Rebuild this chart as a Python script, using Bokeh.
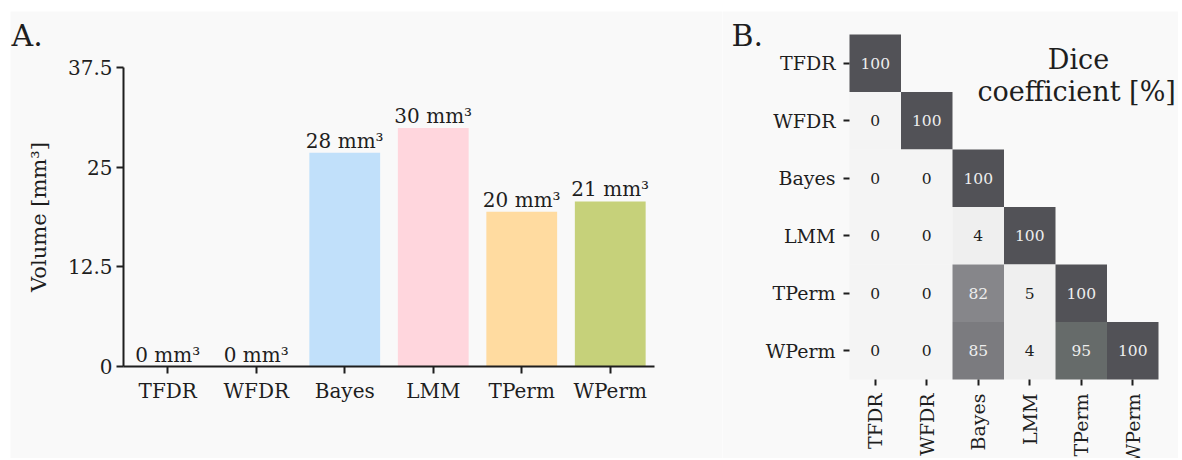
import math
from bokeh.plotting import figure
from bokeh.models import (ColumnDataSource, LabelSet, Label, Range1d, FixedTicker,
                          NumeralTickFormatter, CustomJSTickFormatter, Spacer)
from bokeh.layouts import row, column
from bokeh.embed import file_html
from bokeh.resources import INLINE
from bokeh.core.properties import value

# ---------------- data ----------------
methods = ["TFDR", "WFDR", "Bayes", "LMM", "TPerm", "WPerm"]
volumes = [0, 0, 26.8, 29.9, 19.4, 20.7]
volume_labels = ["0 mm³", "0 mm³", "28 mm³", "30 mm³", "20 mm³", "21 mm³"]
bar_colors = ["#c1e0fa", "#c1e0fa", "#c1e0fa", "#ffd6dd", "#ffdba0", "#c6d17a"]
volume_ticks = [0, 12.5, 25, 37.5]

# lower triangle of the Dice coefficient matrix (row by row)
dice_tfdr = [100]
dice_wfdr = [0, 100]
dice_bayes = [0, 0, 100]
dice_lmm = [0, 0, 4, 100]
dice_tperm = [0, 0, 82, 5, 100]
dice_wperm = [0, 0, 85, 4, 95, 100]
dice_rows = [dice_tfdr, dice_wfdr, dice_bayes, dice_lmm, dice_tperm, dice_wperm]

cell_palette = {0: "#f4f4f4", 4: "#efefef", 5: "#efefef", 82: "#86868a",
                85: "#7b7b7f", 95: "#666b6a", 100: "#525257"}

FONT = "DejaVu Serif"
BG = "#f9f9f9"
INK = "#1e1e1e"
n = len(methods)

# ---------------- panel A (frame spans whole canvas; axes pinned) ----------------
WA, HA = 712, 447
ax_left, ax_top, ax_bottom = 113, 56, 355      # px inside canvas
ppx = 88.5                                      # px per category
ppy = (ax_bottom - ax_top) / 37.5
xA = Range1d(-ax_left / ppx, (WA - ax_left) / ppx)
yA = Range1d(-(HA - ax_bottom) / ppy, 37.5 + ax_top / ppy)

pA = figure(x_range=xA, y_range=yA, width=WA, height=HA, output_backend="svg",
            toolbar_location=None, min_border=0, title=None)
pA.background_fill_color = BG
pA.border_fill_color = BG
pA.outline_line_color = None
pA.grid.visible = False

xpos = [i + 0.5 for i in range(n)]
srcA = ColumnDataSource(dict(x=xpos, top=volumes, lab=volume_labels, c=bar_colors))
pA.vbar(x="x", top="top", width=0.8, fill_color="c", line_color=None, source=srcA)
pA.add_layout(LabelSet(x="x", y="top", text="lab", source=srcA, text_align="center",
                       text_baseline="alphabetic", y_offset=5,
                       text_font=value(FONT), text_font_size="20px", text_color=INK))

name_fmt = CustomJSTickFormatter(args=dict(names=methods),
                                 code="return names[Math.floor(tick)] || ''")

pA.yaxis.ticker = FixedTicker(ticks=volume_ticks)
pA.yaxis.formatter = NumeralTickFormatter(format="0.[0]")
pA.yaxis.fixed_location = 0
pA.yaxis.bounds = (0, 37.5)
pA.yaxis.axis_label = "Volume [mm³]"
pA.yaxis.axis_label_text_font = FONT
pA.yaxis.axis_label_text_font_style = "normal"
pA.yaxis.axis_label_text_font_size = "21px"
pA.yaxis.axis_label_text_color = INK
pA.yaxis.axis_label_standoff = 14
pA.xaxis.ticker = FixedTicker(ticks=xpos)
pA.xaxis.formatter = name_fmt
pA.xaxis.fixed_location = 0
pA.xaxis.bounds = (0, n)
for ax in (pA.xaxis[0], pA.yaxis[0]):
    ax.axis_line_width = 2
    ax.axis_line_color = INK
    ax.major_tick_line_width = 2
    ax.major_tick_line_color = INK
    ax.major_tick_out = 7
    ax.major_tick_in = 0
    ax.minor_tick_line_color = None
    ax.major_label_text_font = FONT
    ax.major_label_text_font_size = "20px"
    ax.major_label_text_color = INK
pA.yaxis.major_label_standoff = 4
pA.xaxis.major_label_standoff = 5

pA.add_layout(Label(x=xA.start + 1 / ppx, y=yA.end - 24 / ppy, text="A.", text_font=FONT,
                    text_font_size="30px", text_color=INK, text_baseline="alphabetic",
                    text_align="left"))

# ---------------- panel B ----------------
WB, HB = 456, 447
bx_left, by_top, by_bottom = 127, 23, 368
cw = 51.5
ch = (by_bottom - by_top) / n
xB = Range1d(-bx_left / cw, (WB - bx_left) / cw)
yB = Range1d(-(HB - by_bottom) / ch, n + by_top / ch)

pB = figure(x_range=xB, y_range=yB, width=WB, height=HB, output_backend="svg",
            toolbar_location=None, min_border=0, title=None)
pB.background_fill_color = BG
pB.border_fill_color = BG
pB.outline_line_color = None
pB.grid.visible = False

xs, ys, fills, tcols, txt = [], [], [], [], []
for i, r in enumerate(dice_rows):
    for j, v in enumerate(r):
        xs.append(j + 0.5)
        ys.append(n - 0.5 - i)
        fills.append(cell_palette[v])
        tcols.append("#eeeeee" if v >= 50 else INK)
        txt.append(str(v))
srcB = ColumnDataSource(dict(x=xs, y=ys, f=fills, tc=tcols, t=txt))
pB.rect(x="x", y="y", width=1, height=1, fill_color="f", line_color=None, source=srcB)
pB.text(x="x", y="y", text="t", text_color="tc", text_align="center", text_baseline="middle",
        text_font=value(FONT), text_font_size="15.5px", source=srcB)

rev = list(reversed(methods))
pB.xaxis.ticker = FixedTicker(ticks=xpos)
pB.xaxis.formatter = name_fmt
pB.xaxis.fixed_location = 0
pB.xaxis.bounds = (0, n)
pB.xaxis.major_label_orientation = math.pi / 2
pB.yaxis.ticker = FixedTicker(ticks=xpos)
pB.yaxis.formatter = CustomJSTickFormatter(args=dict(names=rev),
                                           code="return names[Math.floor(tick)] || ''")
pB.yaxis.fixed_location = 0
pB.yaxis.bounds = (0, n)
for ax in (pB.xaxis[0], pB.yaxis[0]):
    ax.axis_line_color = None
    ax.major_tick_line_width = 2
    ax.major_tick_line_color = INK
    ax.major_tick_out = 6
    ax.major_tick_in = 0
    ax.minor_tick_line_color = None
    ax.major_label_text_font = FONT
    ax.major_label_text_font_size = "19px"
    ax.major_label_text_color = INK
    ax.major_label_standoff = 8

pB.add_layout(Label(x=4.447, y=yB.end - 48 / ch, text="Dice", text_font=FONT,
                    text_font_size="27px", text_color=INK, text_align="center",
                    text_baseline="alphabetic"))
pB.add_layout(Label(x=4.41, y=yB.end - 80 / ch, text="coefficient [%]", text_font=FONT,
                    text_font_size="27px", text_color=INK, text_align="center",
                    text_baseline="alphabetic"))
pB.add_layout(Label(x=xB.start + 9 / cw, y=yB.end - 24 / ch, text="B.", text_font=FONT,
                    text_font_size="30px", text_color=INK, text_baseline="alphabetic",
                    text_align="left"))

layout = column(Spacer(height=11), row(Spacer(width=10), pA, pB))
open("out.html", "w").write(file_html(layout, INLINE))
